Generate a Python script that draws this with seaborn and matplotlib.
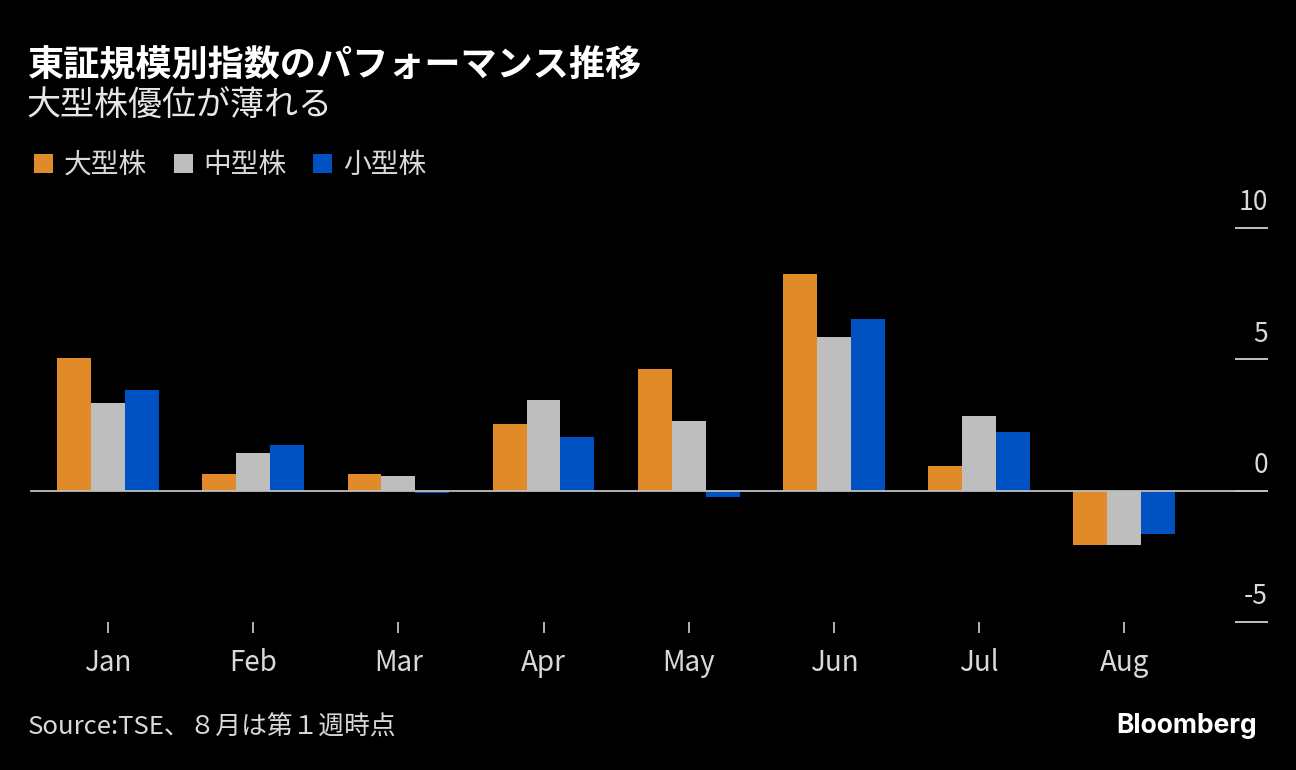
import matplotlib
matplotlib.use("Agg")
import matplotlib.pyplot as plt
import matplotlib.transforms as mtransforms
import seaborn as sns
import pandas as pd

months = ["Jan", "Feb", "Mar", "Apr", "May", "Jun", "Jul", "Aug"]
series_names = ["大型株", "中型株", "小型株"]
large = [5.05, 0.65, 0.65, 2.55, 4.65, 8.25, 0.95, -2.05]
mid = [3.35, 1.45, 0.55, 3.45, 2.65, 5.85, 2.85, -2.05]
small = [3.85, 1.75, -0.08, 2.05, -0.25, 6.55, 2.25, -1.65]
yticks = [-5, 0, 5, 10]
colors = ["#E08A29", "#BEBEBE", "#0052C3"]

title = "東証規模別指数のパフォーマンス推移"
subtitle = "大型株優位が薄れる"
source = "Source:TSE、８月は第１週時点"

df = pd.DataFrame({
    "month": months * 3,
    "series": [series_names[0]] * 8 + [series_names[1]] * 8 + [series_names[2]] * 8,
    "value": large + mid + small,
})

sns.set_theme(style="dark")
plt.rcParams["font.family"] = ["Noto Sans CJK JP", "DejaVu Sans"]

BG = "#000000"
TXT = "#D9D9D9"

fig = plt.figure(figsize=(12.96, 7.70), dpi=100, facecolor=BG)
ax = fig.add_axes([30 / 1296, 1 - 622 / 770, (1268 - 30) / 1296, (622 - 228) / 770])
ax.set_facecolor(BG)

sns.barplot(data=df, x="month", y="value", hue="series", order=months,
            hue_order=series_names, palette=colors, width=0.7,
            linewidth=0, saturation=1, ax=ax, errorbar=None, legend=True)

ax.set_xlim(-0.537, 7.99)
ax.set_ylim(-5, 10)
ax.grid(False)
for s in ax.spines.values():
    s.set_visible(False)

# zero line
ax.axhline(0, color="#BFBFBF", lw=1.3, zorder=5)

# y ticks: short lines on the right, labels above them
ax.set_yticks(yticks)
ax.tick_params(axis="y", left=False, right=True, labelleft=False, labelright=False,
               direction="in", length=24, width=1.3, color="#D0D0D0")
trans = mtransforms.blended_transform_factory(ax.transAxes, ax.transData)
offset = mtransforms.ScaledTranslation(0, 8.5 / 72, fig.dpi_scale_trans)
for v in yticks:
    ax.text(1.0, v, f"{v}", transform=trans + offset, ha="right", va="bottom",
            color=TXT, fontsize=19)

# x ticks
ax.tick_params(axis="x", bottom=True, direction="out", length=8, width=1.2,
               color="#D0D0D0", labelsize=20, labelcolor=TXT, pad=11)
ax.set_xlabel("")
ax.set_ylabel("")

# legend
sns.move_legend(ax, "upper left", bbox_to_anchor=(34 / 1296, 1 - 150 / 770),
                bbox_transform=fig.transFigure, ncol=3, frameon=False,
                title=None, fontsize=20, handlelength=0.68, handleheight=0.68,
                handletextpad=0.4, columnspacing=0.95, borderpad=0, borderaxespad=0)
leg = ax.get_legend()
for t in leg.get_texts():
    t.set_color(TXT)

fig.text(28 / 1296, 1 - 66 / 770, title, color="white", fontsize=26,
         fontweight="bold", ha="left", va="center")
fig.text(27 / 1296, 1 - 106 / 770, subtitle, color="#E6E6E6", fontsize=24.5,
         ha="left", va="center")
fig.text(28 / 1296, 1 - 728 / 770, source, color=TXT, fontsize=18.5,
         ha="left", va="center")
fig.text(1257 / 1296, 1 - 726 / 770, "Bloomberg", color="white", fontsize=19,
         fontweight="bold", ha="right", va="center", family=["Inter", "DejaVu Sans"])

fig.savefig("out.png", dpi=100, facecolor=BG)
